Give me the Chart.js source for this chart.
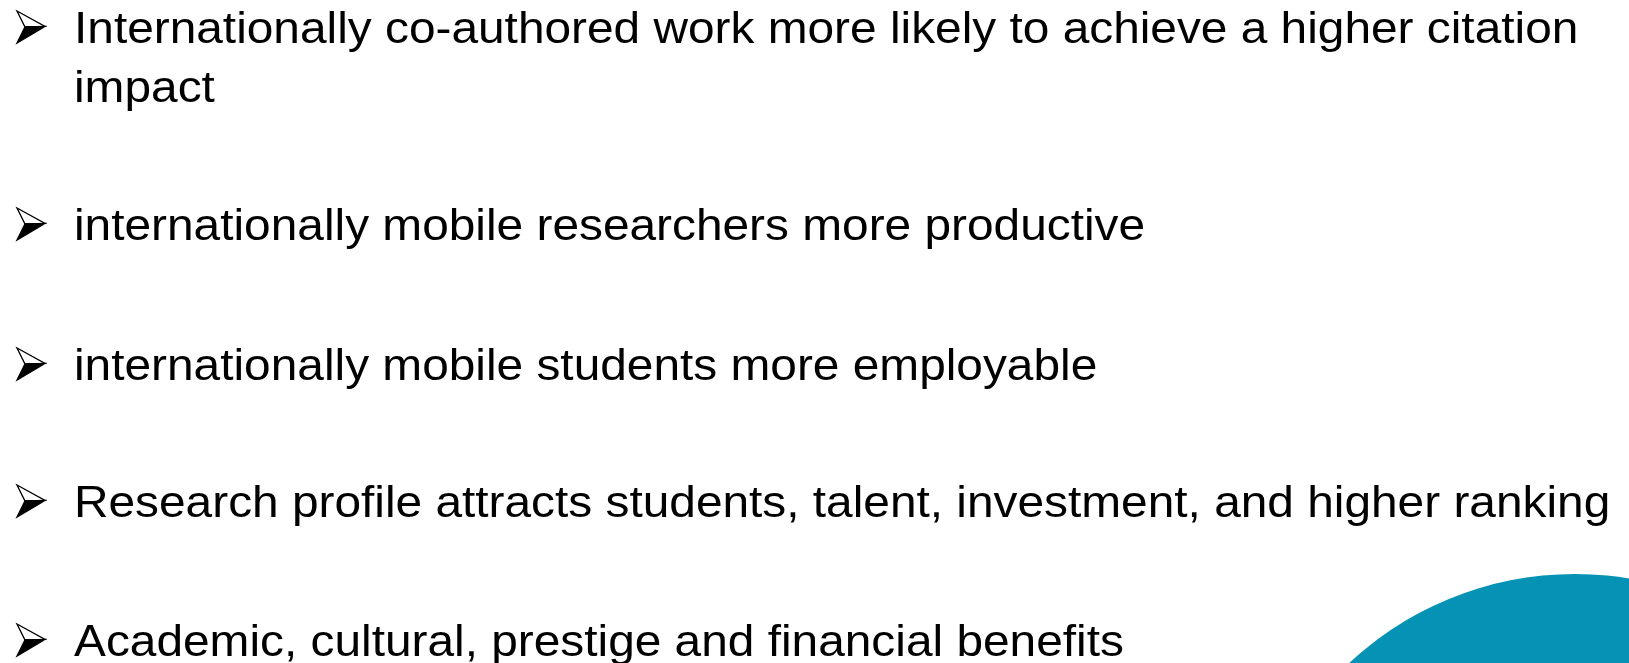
<!DOCTYPE html>
<html>
<head>
<meta charset="utf-8">
<script src="https://cdn.jsdelivr.net/npm/chart.js@4.4.0/dist/chart.umd.min.js"></script>
<style>
  html, body { margin: 0; padding: 0; background: #fff; }
  #wrap { position: relative; width: 1629px; height: 663px; overflow: hidden; }
  #slide { position: absolute; left: 0; top: 0; }
  .line {
    position: absolute; left: 74px; white-space: nowrap;
    font-family: "Liberation Sans", Arial, sans-serif;
    font-size: 44.7px; line-height: 59px; color: #000;
    transform: scaleX(1.07); transform-origin: 0 0;
  }
</style>
</head>
<body>
<div id="wrap">
  <canvas id="slide" width="1629" height="663"></canvas>
</div>
<script>
// bullet texts (each bullet can wrap onto several lines)
var bullets = [
    ["Internationally co-authored work more likely to achieve a higher citation", "impact"],
    ["internationally mobile researchers more productive"],
    ["internationally mobile students more employable"],
    ["Research profile attracts students, talent, investment, and higher ranking"],
    ["Academic, cultural, prestige and financial benefits"]
]
var circleColor = '#0592B5'

// layout: baseline of the first line of each bullet, in px
var baselines = [43, 240, 380, 517, 656]
var lineHeight = 59
var baselineOffset = (lineHeight - 1.117 * 44.7) / 2 + 0.905 * 44.7

var wrap = document.getElementById('wrap')
bullets.forEach(function(lines, i) {
    lines.forEach(function(txt, j) {
        var d = document.createElement('div')
        d.className = 'line'
        d.textContent = txt
        d.style.top = (baselines[i] - baselineOffset + j * lineHeight) + 'px'
        wrap.appendChild(d)
    })
})

// arrowhead bullet marker (3D style: light upper face, dark lower face)
function makeArrow() {
    var c = document.createElement('canvas')
    c.width = 32; c.height = 36
    var g = c.getContext('2d')
    var ox = 2, oy = 2
    g.lineJoin = 'miter'
    g.beginPath()
    g.moveTo(ox, oy); g.lineTo(ox + 28, oy + 15.5); g.lineTo(ox + 8, oy + 16); g.closePath()
    g.fillStyle = '#fff'; g.fill()
    g.strokeStyle = '#000'; g.lineWidth = 1.3; g.stroke()
    g.beginPath()
    g.moveTo(ox + 8, oy + 16); g.lineTo(ox + 28, oy + 15.5); g.lineTo(ox, oy + 32); g.closePath()
    g.fillStyle = '#000'; g.fill()
    g.stroke()
    return c
}

var markers = baselines.map(function(b) { return {x: 31, y: b - 16} })

new Chart(document.getElementById('slide'), {
    type: 'scatter',
    data: {
        datasets: [
            {
                type: 'bubble',
                data: [{x: 1575, y: 905, r: 331}],
                backgroundColor: circleColor,
                borderWidth: 0,
                clip: false
            },
            {
                data: markers,
                pointStyle: makeArrow(),
                pointRadius: 16,
                clip: false
            }
        ]
    },
    options: {
        responsive: false,
        animation: false,
        events: [],
        layout: { padding: 0, autoPadding: false },
        plugins: { legend: { display: false }, tooltip: { enabled: false } },
        scales: {
            x: { type: 'linear', min: 0, max: 1629, display: false },
            y: { type: 'linear', min: 0, max: 663, reverse: true, display: false }
        }
    }
})
</script>
</body>
</html>
